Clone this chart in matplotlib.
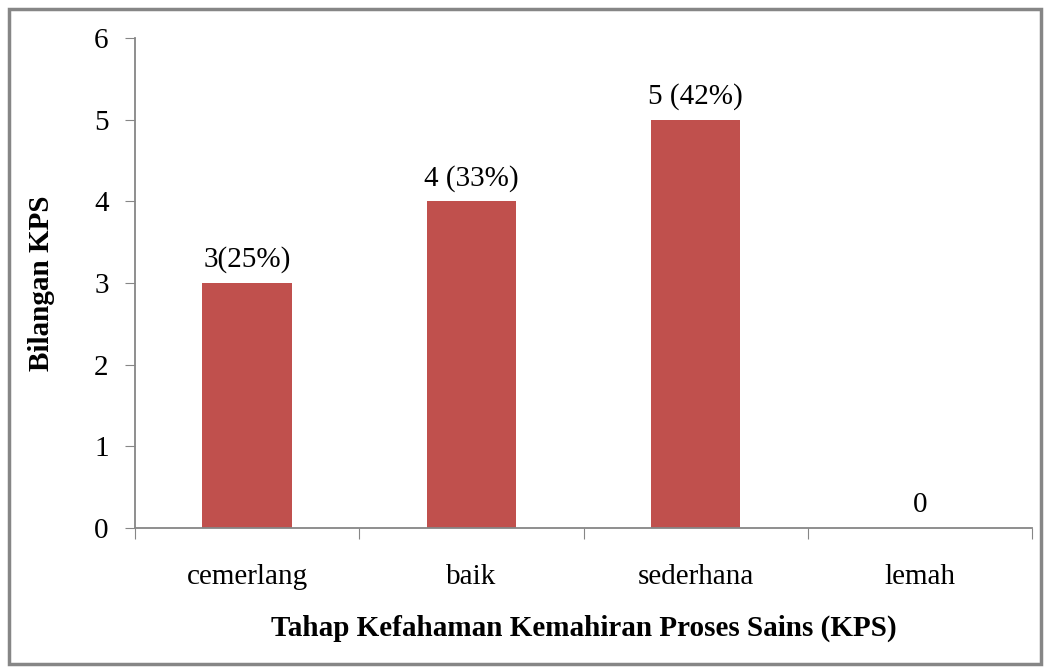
import matplotlib
matplotlib.use("Agg")
import matplotlib.pyplot as plt
from matplotlib.patches import Rectangle

categories = ["cemerlang", "baik", "sederhana", "lemah"]
values = [3, 4, 5, 0]
labels = ["3(25%)", "4 (33%)", "5 (42%)", "0"]

plt.rcParams['font.family'] = ['Liberation Serif', 'DejaVu Serif']
FS = 21

fig = plt.figure(figsize=(10.5, 6.7), dpi=100)
ax = fig.add_axes([135/1050, 1 - 528/670, (1032-135)/1050, (528-38)/670])

x = list(range(len(categories)))
ax.bar(x, values, width=0.4, color="#C0504D", zorder=2)
for xi, v, lab in zip(x, values, labels):
    ax.text(xi, v + 0.12, lab, ha="center", va="bottom", fontsize=FS)

ax.set_xlim(-0.5, len(categories) - 0.5)
ax.set_ylim(0, 6)
ax.set_yticks(range(0, 7))
ax.tick_params(axis="y", labelsize=FS, length=7, color="#868686", direction="out", pad=12)
ax.set_xticks([i - 0.5 for i in range(len(categories) + 1)])
ax.set_xticklabels([])
ax.set_xticks(x, minor=True)
ax.set_xticklabels(categories, minor=True, fontsize=FS)
ax.tick_params(axis="x", which="major", length=8, color="#868686", direction="out")
ax.tick_params(axis="x", which="minor", length=0, pad=26)

for s in ["top", "right"]:
    ax.spines[s].set_visible(False)
for s in ["left", "bottom"]:
    ax.spines[s].set_color("#868686")
    ax.spines[s].set_linewidth(1.3)

ax.set_ylabel("Bilangan KPS", fontsize=FS, fontweight="bold", labelpad=28)
ax.set_xlabel("Tahap Kefahaman Kemahiran Proses Sains (KPS)", fontsize=FS, fontweight="bold", labelpad=18)

fig.patches.append(Rectangle((9/1050, 1 - 664/670), 1032/1050, 655/670, transform=fig.transFigure,
                             fill=False, edgecolor="#868686", linewidth=2.5))

fig.savefig("out.png", dpi=100)
